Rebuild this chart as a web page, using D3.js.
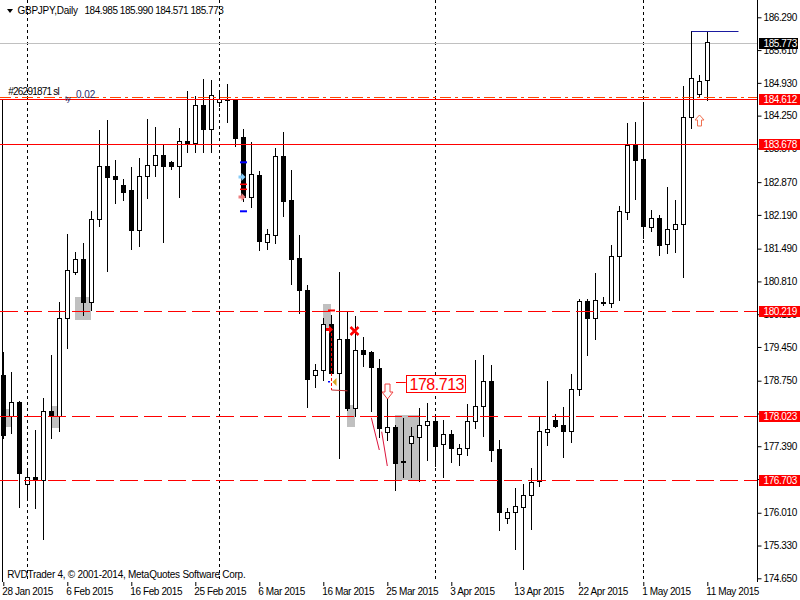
<!DOCTYPE html>
<html><head><meta charset="utf-8">
<script src="https://cdn.jsdelivr.net/npm/d3@7"></script>
<style>
body{margin:0;background:#fff;}
svg text{font-family:"Liberation Sans",Arial,sans-serif;font-size:10px;letter-spacing:-0.4px;}
</style></head><body><svg id="c" width="800" height="600"></svg>
<script>
// ---------------- DATA ----------------
const symbolTitle = "GBPJPY,Daily";
const titleValues = "184.985 185.990 184.571 185.773";
const copyright = "RVDTrader 4, \u00a9 2001-2014, MetaQuotes Software Corp.";

const dates = [
"2015-01-28","2015-01-29","2015-01-30",
"2015-02-01","2015-02-02","2015-02-03","2015-02-04","2015-02-05","2015-02-06",
"2015-02-08","2015-02-09","2015-02-10","2015-02-11","2015-02-12","2015-02-13",
"2015-02-15","2015-02-16","2015-02-17","2015-02-18","2015-02-19","2015-02-20",
"2015-02-22","2015-02-23","2015-02-24","2015-02-25","2015-02-26","2015-02-27",
"2015-03-01","2015-03-02","2015-03-03","2015-03-04","2015-03-05","2015-03-06",
"2015-03-08","2015-03-09","2015-03-10","2015-03-11","2015-03-12","2015-03-13",
"2015-03-15","2015-03-16","2015-03-17","2015-03-18","2015-03-19","2015-03-20",
"2015-03-22","2015-03-23","2015-03-24","2015-03-25","2015-03-26","2015-03-27",
"2015-03-29","2015-03-30","2015-03-31",
"2015-04-01","2015-04-02","2015-04-03",
"2015-04-05","2015-04-06","2015-04-07","2015-04-08","2015-04-09","2015-04-10",
"2015-04-12","2015-04-13","2015-04-14","2015-04-15","2015-04-16","2015-04-17",
"2015-04-19","2015-04-20","2015-04-21","2015-04-22","2015-04-23","2015-04-24",
"2015-04-26","2015-04-27","2015-04-28","2015-04-29","2015-04-30",
"2015-05-01","2015-05-03","2015-05-04","2015-05-05","2015-05-06","2015-05-07","2015-05-08",
"2015-05-10","2015-05-11"];

const open = [178.868,178.017,178.308,176.600,176.751,176.683,178.115,178.011,180.045,181.012,
181.275,180.389,182.099,183.198,182.991,182.804,182.707,181.883,182.991,183.219,
183.427,183.281,183.198,183.717,183.688,184.477,183.979,184.533,184.578,184.589,
183.806,182.568,183.018,181.634,181.779,183.412,182.499,181.289,180.632,178.874,
178.966,179.926,178.903,179.609,178.190,179.381,179.339,179.013,177.679,177.795,
177.075,177.451,177.588,177.824,177.914,177.430,177.638,177.223,177.347,177.914,
178.219,178.737,177.333,175.895,176.032,176.123,176.372,176.675,177.679,177.928,
177.824,177.700,178.571,180.404,180.045,180.383,180.356,181.331,182.244,183.640,
183.344,181.933,182.126,181.580,181.891,181.995,184.215,184.705,184.985];

const high = [179.352,178.924,178.330,176.897,177.727,178.391,179.283,180.383,181.794,181.414,
181.601,182.271,183.952,184.159,183.329,182.935,183.184,183.364,184.180,184.014,
183.655,183.308,183.993,184.767,184.657,185.010,184.989,184.726,184.906,184.595,
183.966,183.696,183.101,181.897,183.578,183.910,183.122,181.779,180.736,179.096,
180.051,180.113,181.012,180.202,180.092,179.663,179.366,179.194,178.418,177.831,
177.970,177.795,178.177,178.281,178.038,177.934,177.727,177.436,178.260,179.179,
179.283,179.076,177.519,176.109,176.517,176.606,176.945,178.011,178.744,178.059,
178.204,178.889,180.445,180.445,180.984,180.493,181.565,182.375,184.097,184.118,
184.491,182.292,182.194,182.769,182.505,184.865,186.005,185.093,185.990];

const low = [177.561,177.675,176.123,176.295,176.115,175.471,177.567,177.712,179.435,180.970,
180.113,180.217,181.960,181.026,182.443,182.499,181.489,181.551,182.547,182.997,
181.634,183.136,182.568,183.501,183.501,183.501,183.501,184.450,184.124,183.620,
182.485,182.360,181.462,181.482,181.613,182.173,180.762,180.161,178.210,178.625,
178.764,178.868,177.140,178.142,178.017,179.055,178.127,177.588,177.519,176.482,
176.758,176.758,176.669,177.105,176.980,176.745,177.069,177.007,177.214,177.775,
177.609,177.090,175.658,175.803,175.264,174.849,175.679,176.571,177.422,177.789,
177.173,177.472,178.447,179.289,179.621,180.314,180.273,180.424,182.099,182.526,
181.704,181.862,181.364,181.406,181.426,180.908,183.999,184.663,184.571];

const close = [177.623,178.302,176.828,176.745,176.689,178.115,178.011,180.045,181.041,181.269,
180.389,182.099,183.198,182.983,182.941,182.671,181.883,182.991,183.219,183.427,
183.198,183.198,183.717,183.688,184.464,183.979,184.672,184.589,184.566,183.792,
182.568,183.032,181.655,181.794,183.412,182.485,181.281,180.638,178.779,178.972,
179.926,178.903,179.609,178.190,179.381,179.310,179.028,177.762,177.789,177.048,
177.059,177.609,177.831,177.907,177.401,177.638,177.347,177.347,177.914,178.219,
178.737,177.306,176.019,176.032,176.144,176.372,176.654,177.706,177.741,177.804,
177.700,178.571,180.404,180.045,180.418,180.368,181.331,182.265,183.640,183.335,
181.966,182.126,181.572,181.891,181.995,184.215,185.024,184.968,185.773];

const priceTicks = [186.290,185.610,184.930,184.250,183.570,182.870,182.190,181.490,180.810,
180.130,179.450,178.750,178.070,177.390,176.710,176.010,175.330,174.650];
const dateTickLabels = ["28 Jan 2015","6 Feb 2015","16 Feb 2015","25 Feb 2015","6 Mar 2015",
"16 Mar 2015","25 Mar 2015","3 Apr 2015","13 Apr 2015","22 Apr 2015","1 May 2015","11 May 2015"];

// horizontal levels
const levelPrices = [184.612,183.678,180.219,178.023,176.703];
const levelDashed = [false,false,true,true,true];
const bidPrice = 185.773;
const slPrice = 184.645;
const slLabel = "#26291871 sl";
const highLinePrice = 186.005;

// grey zones (bar index from/to, price top/bottom)
const zoneFrom = [0,6,9,40,43,49];
const zoneTo = [1,7,11,41,44,52];
const zoneTop = [178.163,178.225,180.487,180.341,178.246,178.038];
const zoneBottom = [177.795,177.775,180.009,179.816,177.795,176.690];

const priceLabel = "178.713";
const priceLabelValue = 178.713;

// ---------------- DRAW ----------------
const svg = d3.select("#c");
const W = 800, H = 600, AX = 757.5, BOTTOM = 582;
svg.append("rect").attr("width",W).attr("height",H).attr("fill","#fff");

const x = d3.scaleLinear().domain([0, dates.length-1]).range([3.3, 707.3]);
const y = d3.scaleLinear().domain([174.65, 186.29]).range([578.3, 17.3]);
const cx = i => Math.round(x(i)) + 0.5;
const yr = v => Math.round(y(v));
const yl = v => Math.round(y(v) + 0.65);   // row used for horizontal price lines

// zones
zoneFrom.forEach((f,k) => {
  svg.append("rect")
    .attr("x", Math.round(x(f))).attr("y", yr(zoneTop[k]))
    .attr("width", Math.round(x(zoneTo[k]) - x(f)))
    .attr("height", yr(zoneBottom[k]) - yr(zoneTop[k]))
    .attr("fill", "#c0c0c0");
});

// period separators (first bar of each month)
const parse = d3.timeParse("%Y-%m-%d");
const dd = dates.map(parse);
dd.forEach((d,i) => {
  if (i > 0 && d.getMonth() !== dd[i-1].getMonth()) {
    svg.append("line").attr("x1",cx(i)).attr("x2",cx(i)).attr("y1",0).attr("y2",BOTTOM)
      .attr("stroke","#000").attr("stroke-dasharray","3,3");
  }
});

// bid line
svg.append("line").attr("x1",0).attr("x2",AX).attr("y1",yl(bidPrice)+0.5).attr("y2",yl(bidPrice)+0.5)
  .attr("stroke","#c0c0c0");

// left vertical line
svg.append("line").attr("x1",2.5).attr("x2",2.5).attr("y1",100).attr("y2",BOTTOM).attr("stroke","#000");

// candles
const gc = svg.append("g");
dates.forEach((d,i) => {
  const c = cx(i);
  gc.append("line").attr("x1",c).attr("x2",c)
    .attr("y1",yr(high[i])).attr("y2",yr(low[i])+1).attr("stroke","#000");
  const bull = close[i] >= open[i];
  const top = yr(Math.max(open[i],close[i])), bot = yr(Math.min(open[i],close[i]));
  if (bot - top < 1) {
    gc.append("line").attr("x1",c-2.5).attr("x2",c+2.5).attr("y1",top+0.5).attr("y2",top+0.5).attr("stroke","#000");
  } else {
    gc.append("rect").attr("x",c-2).attr("y",top+0.5).attr("width",4).attr("height",bot-top)
      .attr("fill", bull ? "#fff" : "#000").attr("stroke","#000");
  }
});

// SL dash-dot line
svg.append("line").attr("x1",0).attr("x2",AX).attr("y1",yr(slPrice)+0.5).attr("y2",yr(slPrice)+0.5)
  .style("stroke","#ff4500").attr("stroke-dasharray","11,4,3,4");
// levels
levelPrices.forEach((p,k) => {
  const ln = svg.append("line").attr("x1",0).attr("x2",AX).attr("y1",yl(p)+0.5).attr("y2",yl(p)+0.5)
    .style("stroke","#ff0000").style("stroke-width","1px");
  if (levelDashed[k]) ln.attr("stroke-dasharray","18,6");
});

// high line (blue)
svg.append("line").attr("x1",cx(86)).attr("x2",x(91.9)).attr("y1",yr(highLinePrice)+0.5).attr("y2",yr(highLinePrice)+0.5)
  .attr("stroke","#1a1aa0");

// ---- annotations ----
function rightArrow(tipX, cy, color) {
  const p = [[tipX,cy],[tipX-4,cy-4],[tipX-4,cy-1.5],[tipX-7,cy-1.5],[tipX-7,cy+1.5],[tipX-4,cy+1.5],[tipX-4,cy+4]];
  svg.append("polygon").attr("points", p.map(q=>q.join(",")).join(" ")).attr("fill",color);
}
function tick(i, price, color, w, dx1, dx2) {
  svg.append("line").attr("x1",cx(i)+dx1).attr("x2",cx(i)+dx2).attr("y1",y(price)).attr("y2",y(price))
    .attr("stroke",color).attr("stroke-width",w);
}
// bar 30 markers
tick(30, 183.281, "#0000ff", 2, -3.5, 3.5);
tick(30, 182.265, "#0000ff", 2, -3.5, 3.5);
tick(30, 182.825, "#ff0000", 1.5, -3.5, 3.5);
tick(30, 182.721, "#ff0000", 1.5, -3.5, 3.5);
rightArrow(cx(30)+2, y(182.976), "#87cefa");
rightArrow(cx(30)+2, y(182.561), "#f08080");

// bar 41 markers
tick(41, 180.207, "#ff0000", 2, -3.5, 3.5);
rightArrow(cx(41)+1.5, y(179.812), "#ff0000");
svg.append("line").attr("x1",cx(41)).attr("x2",cx(41)).attr("y1",y(179.74)).attr("y2",y(178.557))
  .attr("stroke","#ff0000").attr("stroke-dasharray","3,2");
svg.append("line").attr("x1",cx(41)).attr("x2",cx(43)).attr("y1",y(178.557)).attr("y2",y(178.54))
  .attr("stroke","#c03030");
tick(41, 178.729, "#0000ff", 1.5, -3.5, -1.5);
{
  const tx = cx(41)+1, ty = y(178.723);
  svg.append("polygon").attr("points",`${tx},${ty} ${tx+4},${ty-4} ${tx+4},${ty+4}`).attr("fill","#daa520");
}
// red X at bar 44
{
  const xc = cx(44)-1, yc = y(179.781), s = 4;
  svg.append("path").attr("d",`M${xc-s},${yc-s}L${xc+s},${yc+s}M${xc+s},${yc-s}L${xc-s},${yc+s}`)
    .attr("stroke","#ff0000").attr("stroke-width",2.5);
}
// crimson lines
svg.append("line").attr("x1",x(46)).attr("y1",y(177.982)).attr("x2",x(47)).attr("y2",y(177.312)).attr("stroke","#dc143c");
svg.append("line").attr("x1",x(47.3)).attr("y1",y(177.692)).attr("x2",x(48)).attr("y2",y(176.980)).attr("stroke","#dc143c");

// hollow down arrow at bar 48
{
  const c = cx(48), t = y(178.681);
  svg.append("path").attr("d",`M${c-2.5},${t}H${c+2.5}V${t+8}H${c+5.5}L${c},${t+15}L${c-5.5},${t+8}H${c-2.5}Z`)
    .attr("fill","#fff").attr("stroke","#f04040");
}
// price label 178.713
{
  const ly = y(priceLabelValue);
  svg.append("line").attr("x1",cx(48)+8.5).attr("x2",x(51)-5.5).attr("y1",Math.round(ly)+0.5).attr("y2",Math.round(ly)+0.5).attr("stroke","#ff0000");
  const bx = Math.round(x(51)-5)+0.5;
  svg.append("rect").attr("x",bx).attr("y",Math.round(ly-7.5)+0.5).attr("width",59).attr("height",17)
    .attr("fill","#fff").attr("stroke","#ff0000");
  svg.append("text").attr("x",bx+3).attr("y",ly+7.5).text(priceLabel)
    .attr("fill","#ff0000").style("font-size","16px").style("letter-spacing","0px").attr("textLength",55);
}
// hollow up arrow at bar 87
{
  const c = cx(87), t = y(184.263);
  svg.append("path").attr("d",`M${c},${t}L${c+4.5},${t+5}H${c+2}V${t+11}H${c-2}V${t+5}H${c-4.5}Z`)
    .attr("fill","#fff").attr("stroke","#f07050");
}

// ---- axes ----
const tagPrices = [bidPrice].concat(levelPrices);
const ay = svg.append("g").attr("transform",`translate(${AX},0)`)
  .call(d3.axisRight(y).tickValues(priceTicks).tickFormat(d3.format(".3f")).tickSize(4).tickPadding(2));
ay.select(".domain").remove();
ay.attr("font-family",null).attr("font-size",null);
// labels lying fully under a price tag are not visible in the chart
ay.selectAll(".tick").filter(d => tagPrices.some(p => Math.abs(y(p) - y(d)) < 4)).select("text").remove();
svg.append("line").attr("x1",AX).attr("x2",AX).attr("y1",0).attr("y2",BOTTOM).attr("stroke","#000");

const fmtKey = d3.timeFormat("%Y-%m-%d");
const tickIdx = dateTickLabels.map(l => dates.indexOf(fmtKey(d3.timeParse("%d %b %Y")(l))));
const ax = svg.append("g").attr("transform",`translate(0,${BOTTOM})`)
  .call(d3.axisBottom(x).tickValues(tickIdx).tickFormat((d,k) => dateTickLabels[k]).tickSize(4).tickPadding(2));
ax.select(".domain").remove();
ax.attr("font-family",null).attr("font-size",null);
ax.selectAll("text").attr("text-anchor","start").attr("dx",-1.5);

// level tags
function tag(p, color, w) {
  const ty = yl(p);
  svg.append("rect").attr("x",759).attr("y",ty-5).attr("width",w).attr("height",11).attr("fill",color);
  svg.append("text").attr("x",763.5).attr("y",ty+0.5).attr("dy","0.35em").attr("fill","#fff").text(d3.format(".3f")(p));
}
tag(bidPrice, "#000", 39);
levelPrices.forEach(p => tag(p, "#ff0000", 41));

// header
svg.append("polygon").attr("points","7,9 13,9 10,13").attr("fill","#000");
svg.append("text").attr("x",17.5).attr("y",14).text(symbolTitle).attr("textLength",60);
svg.append("text").attr("x",84.5).attr("y",14).text(titleValues).attr("textLength",139);

// SL label
svg.append("text").attr("x",8.3).attr("y",yr(slPrice)-2.5).text(slLabel).attr("textLength",51);
svg.append("text").attr("x",65).attr("y",yr(slPrice)+3.5).text("ty").attr("fill","#2b2b6b").style("font-size","8px");
svg.append("text").attr("x",76).attr("y",yr(slPrice)+0.5).text("0.02").attr("fill","#2b2b6b").attr("textLength",19);

// copyright
svg.append("text").attr("x",7.3).attr("y",578).text(copyright).attr("textLength",238);
</script></body></html>
